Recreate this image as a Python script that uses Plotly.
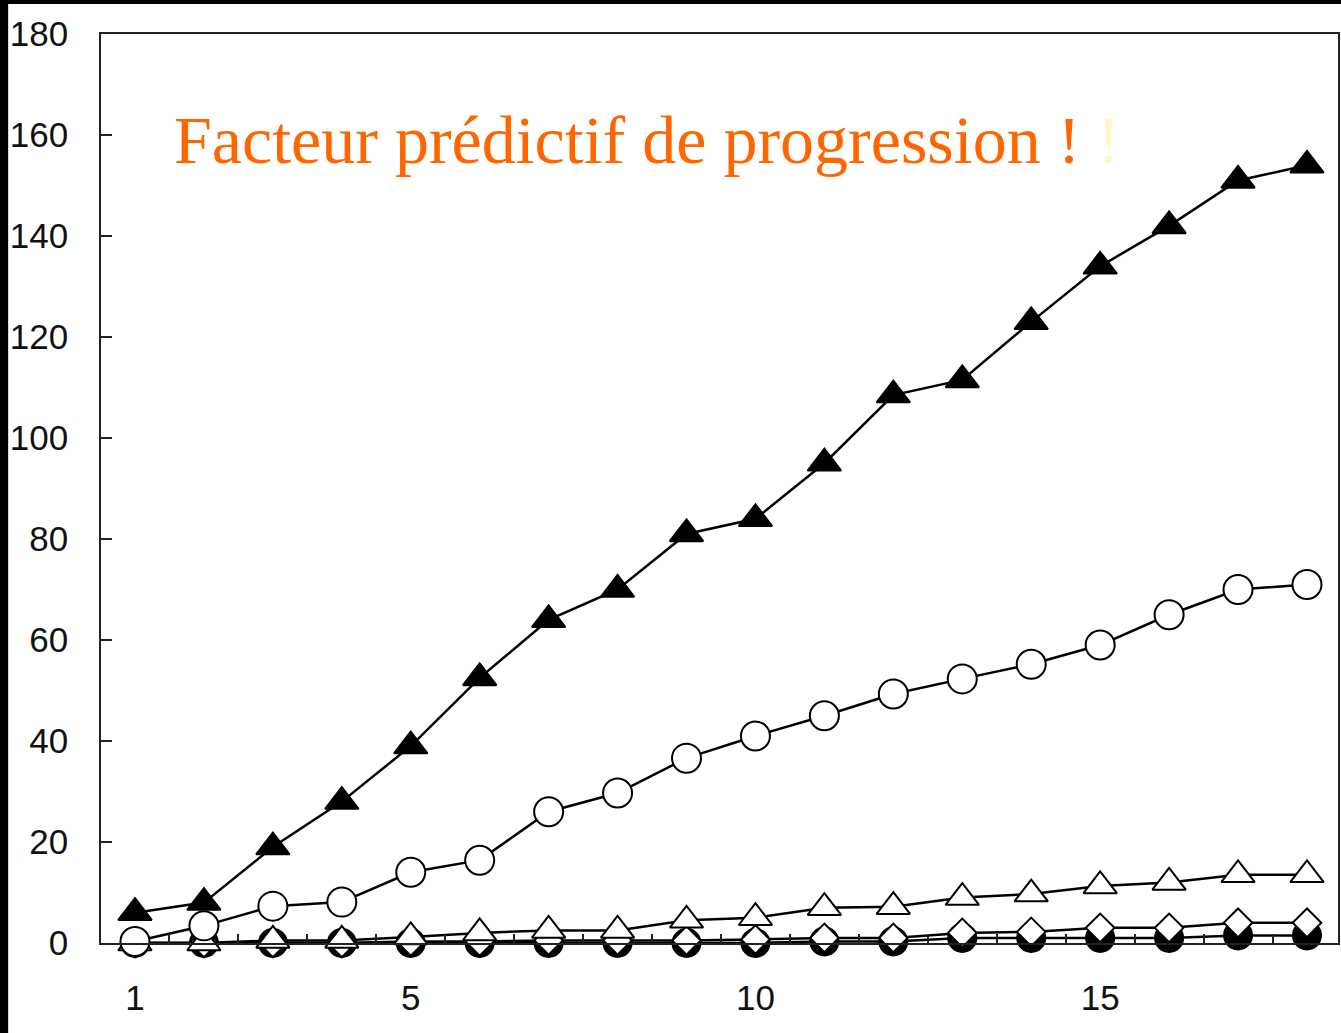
import plotly.graph_objects as go

x_vals = list(range(1, 19))
filled_triangles = [6, 8, 19, 28, 39, 52.5, 64, 70, 81, 84, 95, 108.5, 111.5, 123, 134, 142, 151, 154]
open_circles = [0.3, 3.4, 7.3, 8.1, 14, 16.4, 26, 29.7, 36.6, 41, 45, 49.3, 52.3, 55.2, 59, 65, 70, 71]
open_triangles = [0, 0, 0.5, 0.5, 1.2, 2, 2.5, 2.5, 4.5, 5, 7, 7.2, 9, 9.7, 11.3, 12, 13.5, 13.5]
open_diamonds = [0, 0, 0, 0, 0.3, 0.3, 0.5, 0.5, 0.5, 0.7, 1, 1, 2, 2.2, 3, 3, 4, 4]
filled_circles = [0, 0, 0, 0, 0, 0, 0, 0, 0, 0, 0.3, 0.3, 1, 1, 1, 1, 1.5, 1.5]

y_ticks = [0, 20, 40, 60, 80, 100, 120, 140, 160, 180]
x_ticks = [1, 5, 10, 15]
title_main = "Facteur prédictif de progression !"
title_extra = "!"

W, H = 1341, 1033
ML, MR, MT, MB = 101, 1, 34, 90

fig = go.Figure()

def add(y, symbol, size, fill):
    fig.add_trace(go.Scatter(
        x=x_vals, y=y, mode="lines+markers",
        line=dict(color="black", width=2.5),
        marker=dict(symbol=symbol, size=size, color=fill,
                    line=dict(color="black", width=2)),
        cliponaxis=False, showlegend=False))

add(filled_circles, "circle", 28, "black")
add(open_diamonds, "diamond", 22, "white")
add(open_triangles, "triangle-up", 29, "white")
add(filled_triangles, "triangle-up", 29, "black")
add(open_circles, "circle", 29, "white")

pw = W - ML - MR
ph = H - MT - MB
fig.add_shape(type="rect", xref="paper", yref="paper",
              x0=(8 - ML) / pw, x1=1.02, y0=-0.2, y1=(H - MB - 4) / ph,
              fillcolor="white", line=dict(width=0), layer="below")

fig.add_annotation(
    xref="paper", yref="paper", x=(172 - ML) / pw, y=(H - MB - 140) / ph,
    xanchor="left", yanchor="middle", showarrow=False,
    text=title_main + " <span style='color:#FFF7C6'>" + title_extra + "</span>",
    font=dict(family="Liberation Serif", size=68, color="#FF6600"))

fig.update_xaxes(
    range=[0.507, 18.45], tickvals=x_ticks, ticktext=[str(v) for v in x_ticks],
    ticks="", showgrid=False, zeroline=False,
    showline=True, linecolor="#222", linewidth=1.5, mirror=True,
    ticklabelstandoff=23,
    minor=dict(ticks="inside", tick0=0.5, dtick=1, ticklen=9, tickwidth=1.5, tickcolor="#222", showgrid=False),
    tickfont=dict(family="Liberation Sans", size=35, color="#111"))
fig.update_yaxes(
    range=[0, 180], tickvals=y_ticks, ticks="inside", ticklen=11, tickwidth=1.5, tickcolor="#222",
    showgrid=False, zeroline=False,
    showline=True, linecolor="#222", linewidth=1.5, mirror=True,
    ticklabelstandoff=24,
    tickfont=dict(family="Liberation Sans", size=35, color="#111"))

fig.update_layout(
    width=W, height=H, autosize=False,
    margin=dict(l=ML, r=MR, t=MT, b=MB, pad=0),
    paper_bgcolor="black", plot_bgcolor="white")

fig.write_html("out.html", config={"displayModeBar": False},
               post_script="document.body.style.margin='0px';")
